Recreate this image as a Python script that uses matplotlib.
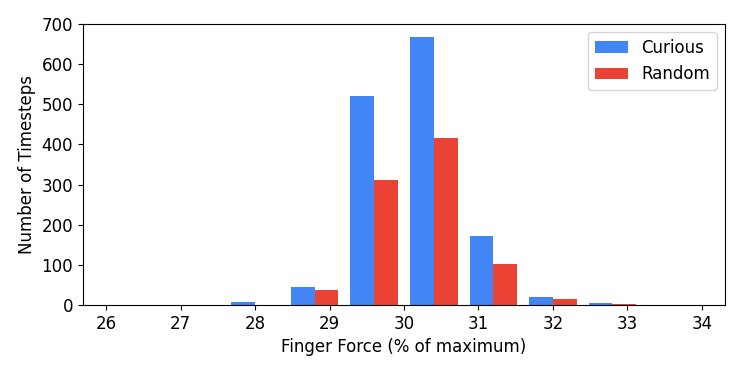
import numpy as np
import matplotlib
matplotlib.use('Agg')
import matplotlib.pyplot as plt

# centros de los bins (10 bins de 26 a 34)
bin_centers = [26.4, 27.2, 28.0, 28.8, 29.6, 30.4, 31.2, 32.0, 32.8, 33.6]
curious = [0, 0, 7, 45, 521, 668, 172, 21, 4, 0]
random_ = [0, 0, 0, 37, 311, 415, 102, 14, 2, 0]
xticks = [26, 27, 28, 29, 30, 31, 32, 33, 34]

BAR_W = 0.32

fig = plt.figure(figsize=(7.47, 3.74), dpi=100)
ax = fig.add_axes([0.111, 0.1845, 0.8596, 0.7515])

x = np.array(bin_centers)
ax.bar(x - BAR_W / 2, curious, width=BAR_W, color='#4285F4', label='Curious')
ax.bar(x + BAR_W / 2, random_, width=BAR_W, color='#EA4335', label='Random')

ax.set_xticks(xticks)
ax.set_yticks(range(0, 701, 100))
ax.set_ylim(0, 700)
ax.tick_params(labelsize=12)
ax.set_xlabel('Finger Force (% of maximum)', fontsize=12)
ax.set_ylabel('Number of Timesteps', fontsize=12)
ax.legend(loc='upper right', fontsize=12)

plt.savefig('out.png', dpi=100)
